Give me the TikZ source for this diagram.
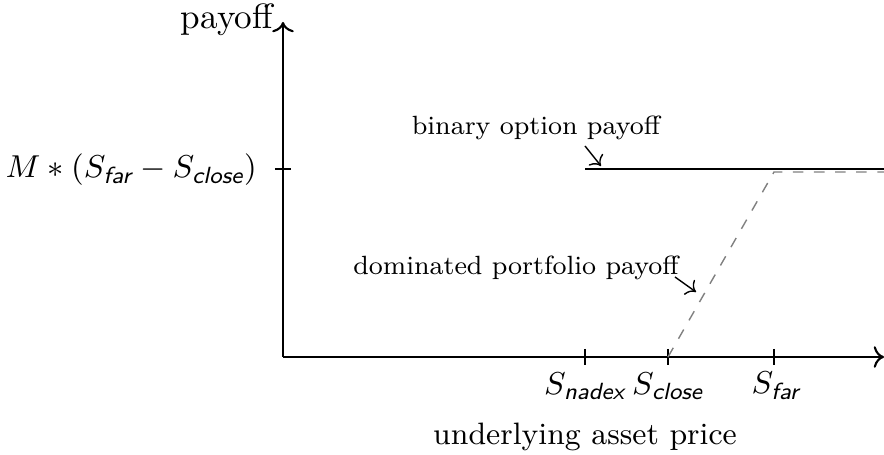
\documentclass[tikz,border=0pt]{standalone}
\usepackage{amsmath}
\usetikzlibrary{arrows.meta}
\newcommand{\subsf}[1]{\textsf{\itshape #1}}
\begin{document}
\begin{tikzpicture}[x=0.01cm,y=-0.01cm,
  axis/.style={semithick,->},
  tick/.style={thin},
  lbl/.style={inner sep=1pt},
  mathlbl/.style={inner sep=1pt,font=\fontsize{9.5}{11}\selectfont},
  note/.style={inner sep=1pt,font=\fontsize{7.5}{9}\selectfont},
  pointer/.style={thin,->}]
\useasboundingbox (0,0) rectangle (884,455);
% axes
\coordinate (O) at (283,357);
\coordinate (xend) at (884,357);
\coordinate (yend) at (283,22);
\draw[axis] (O) -- (xend);
\draw[axis] (O) -- (yend);
\node[lbl,anchor=east] (ylab) at (277,20) {payoff};
\node[lbl,font=\fontsize{8.8}{10.5}\selectfont] (xlab) at (585,437) {underlying asset price};
% ticks on the price axis
\coordinate (snad) at (585,357);
\coordinate (sclo) at (668,357);
\coordinate (sfar) at (774,357);
\foreach \c in {snad,sclo,sfar}
  \draw[tick] ([yshift=0.08cm]\c) -- ([yshift=-0.08cm]\c);
\node[mathlbl] (tnad) at (585,386) {$S_{\subsf{nadex}}$};
\node[mathlbl] (tclo) at (668,386) {$S_{\subsf{close}}$};
\node[mathlbl] (tfar) at (776,386) {$S_{\subsf{far}}$};
% tick on the payoff axis
\coordinate (ymax) at (283,169);
\draw[tick] ([xshift=-0.08cm]ymax) -- ([xshift=0.08cm]ymax);
\node[mathlbl,anchor=east] (tmax) at (261,170) {$M*(S_{\subsf{far}}-S_{\subsf{close}})$};
% binary option payoff
\coordinate (b0) at (585,169);
\coordinate (b1) at (884,169);
\draw[thick] (b0) -- (b1);
% dominated portfolio payoff
\coordinate (d1) at (774,172);
\coordinate (d2) at (884,172);
\draw[gray,dashed,thin] (sclo) -- (d1) -- (d2);
% annotations
\node[note] (nbin) at (536,128) {binary option payoff};
\coordinate (pbin) at (601,166);
\draw[pointer] (585,146) -- (pbin);
\node[note] (ndom) at (516,268) {dominated portfolio payoff};
\coordinate (pdom) at (696,292);
\draw[pointer] (675,277) -- (pdom);
\end{tikzpicture}
\end{document}
